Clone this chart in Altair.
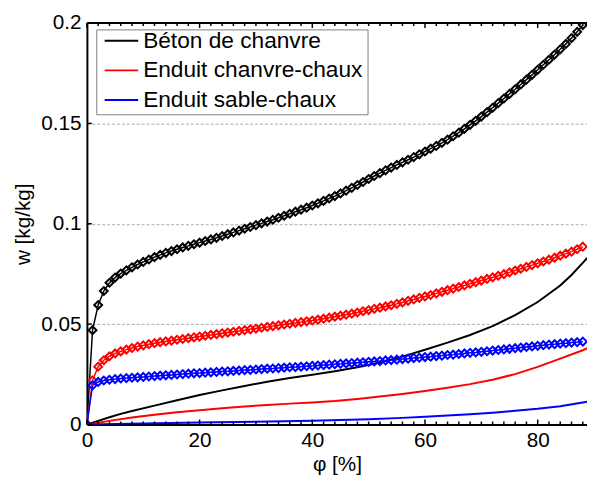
import altair as alt
import pandas as pd

MATERIALS = ["Béton de chanvre", "Enduit chanvre-chaux", "Enduit sable-chaux"]
COLORS = ["#000000", "#ff0000", "#0000ff"]

# marker curves, phi = 0..88 %
PHI_M = list(range(89))
W_BETON_M = [
    0.0, 0.0470, 0.0595, 0.0665, 0.0706, 0.0732, 0.0752, 0.0768, 0.0783, 0.0797,
    0.0810, 0.0822, 0.0834, 0.0845, 0.0855, 0.0864, 0.0873, 0.0882, 0.0890, 0.0898,
    0.0906, 0.0914, 0.0922, 0.0930, 0.0939, 0.0948, 0.0957, 0.0966, 0.0975, 0.0984,
    0.0993, 0.1002, 0.1011, 0.1020, 0.1030, 0.1040, 0.1050, 0.1060, 0.1070, 0.1080,
    0.1091, 0.1102, 0.1114, 0.1126, 0.1138, 0.1151, 0.1165, 0.1179, 0.1193, 0.1208,
    0.1223, 0.1238, 0.1252, 0.1266, 0.1280, 0.1293, 0.1306, 0.1319, 0.1332, 0.1346,
    0.1360, 0.1374, 0.1388, 0.1403, 0.1419, 0.1436, 0.1454, 0.1473, 0.1493, 0.1513,
    0.1534, 0.1556, 0.1578, 0.1601, 0.1624, 0.1647, 0.1670, 0.1694, 0.1718, 0.1742,
    0.1767, 0.1792, 0.1817, 0.1843, 0.1869, 0.1896, 0.1925, 0.1956, 0.1990,
]
W_CHANVRE_M = [
    0.0, 0.0220, 0.0288, 0.0320, 0.0340, 0.0354, 0.0364, 0.0373, 0.0381, 0.0388,
    0.0394, 0.0400, 0.0405, 0.0410, 0.0414, 0.0418, 0.0422, 0.0426, 0.0430, 0.0434,
    0.0438, 0.0442, 0.0446, 0.0450, 0.0454, 0.0458, 0.0462, 0.0466, 0.0470, 0.0474,
    0.0478, 0.0482, 0.0486, 0.0490, 0.0494, 0.0498, 0.0502, 0.0506, 0.0510, 0.0514,
    0.0518, 0.0522, 0.0527, 0.0532, 0.0537, 0.0542, 0.0547, 0.0552, 0.0558, 0.0564,
    0.0570, 0.0576, 0.0582, 0.0588, 0.0594, 0.0601, 0.0608, 0.0616, 0.0623, 0.0631,
    0.0638, 0.0645, 0.0653, 0.0661, 0.0669, 0.0677, 0.0685, 0.0693, 0.0701, 0.0709,
    0.0717, 0.0725, 0.0733, 0.0741, 0.0749, 0.0758, 0.0767, 0.0776, 0.0785, 0.0794,
    0.0803, 0.0812, 0.0821, 0.0831, 0.0841, 0.0851, 0.0861, 0.0873, 0.0886,
]
W_SABLE_M = [
    0.0, 0.0195, 0.0212, 0.0219, 0.0223, 0.0226, 0.0229, 0.0231, 0.0233, 0.0235,
    0.0237, 0.0239, 0.0241, 0.0243, 0.0245, 0.0247, 0.0249, 0.0251, 0.0253, 0.0255,
    0.0256, 0.0258, 0.0260, 0.0262, 0.0264, 0.0265, 0.0267, 0.0269, 0.0271, 0.0272,
    0.0274, 0.0276, 0.0278, 0.0279, 0.0281, 0.0283, 0.0285, 0.0286, 0.0288, 0.0290,
    0.0292, 0.0294, 0.0296, 0.0298, 0.0300, 0.0302, 0.0304, 0.0306, 0.0308, 0.0310,
    0.0312, 0.0314, 0.0316, 0.0319, 0.0321, 0.0323, 0.0326, 0.0328, 0.0331, 0.0333,
    0.0336, 0.0338, 0.0341, 0.0343, 0.0346, 0.0348, 0.0351, 0.0354, 0.0357, 0.0359,
    0.0362, 0.0365, 0.0368, 0.0371, 0.0374, 0.0377, 0.0380, 0.0383, 0.0386, 0.0389,
    0.0392, 0.0395, 0.0398, 0.0400, 0.0403, 0.0405, 0.0408, 0.0410, 0.0413,
]

# thin solid curves
PHI_BETON_L = [0, 2, 4, 6, 8, 12, 16, 20, 24, 28, 32, 36, 40, 44, 48, 52, 56, 60,
               64, 68, 72, 76, 80, 84, 86, 88, 88.8]
W_BETON_L = [0.0, 0.0018, 0.0036, 0.0053, 0.0067, 0.0094, 0.0121, 0.0147, 0.0170,
             0.0192, 0.0213, 0.0232, 0.0248, 0.0265, 0.0285, 0.0309, 0.0338, 0.0372,
             0.0408, 0.0446, 0.0490, 0.0545, 0.0610, 0.0692, 0.0745, 0.0805, 0.0830]
PHI_CHANVRE_L = [0, 4, 8, 12, 16, 20, 24, 28, 32, 36, 40, 44, 48, 52, 56, 60, 64,
                 68, 72, 76, 80, 84, 88, 88.8]
W_CHANVRE_L = [0.0, 0.0018, 0.0035, 0.0049, 0.0061, 0.0071, 0.0081, 0.0090, 0.0097,
               0.0104, 0.0110, 0.0117, 0.0127, 0.0139, 0.0152, 0.0167, 0.0183, 0.0201,
               0.0223, 0.0251, 0.0287, 0.0328, 0.0370, 0.0380]
PHI_SABLE_L = [0, 10, 20, 30, 40, 50, 56, 60, 64, 68, 72, 76, 80, 84, 88, 88.8]
W_SABLE_L = [0.0, 0.0005, 0.0010, 0.0014, 0.0019, 0.0026, 0.0033, 0.0039, 0.0045,
             0.0051, 0.0059, 0.0068, 0.0078, 0.0091, 0.0110, 0.0114]

X_MAJOR = [0, 20, 40, 60, 80]
X_MINOR = [v for v in range(2, 89, 2) if v % 20 != 0]
Y_TICKS = [0, 0.05, 0.1, 0.15, 0.2]

rows_m = []
for name, ws in zip(MATERIALS, [W_BETON_M, W_CHANVRE_M, W_SABLE_M]):
    for p, w in zip(PHI_M, ws):
        rows_m.append({"phi": p, "w": w, "mat": name})
df_m = pd.DataFrame(rows_m)

rows_l = []
for name, ps, ws in zip(MATERIALS, [PHI_BETON_L, PHI_CHANVRE_L, PHI_SABLE_L],
                        [W_BETON_L, W_CHANVRE_L, W_SABLE_L]):
    for p, w in zip(ps, ws):
        rows_l.append({"phi": p, "w": w, "mat": name})
df_l = pd.DataFrame(rows_l)

W, H = 507, 407
FONT = "Liberation Sans"

xscale = alt.Scale(domain=[0, 88.75], nice=False, zero=False)
yscale = alt.Scale(domain=[0, 0.2], nice=False)
cscale = alt.Scale(domain=MATERIALS, range=COLORS)

legend = alt.Legend(
    title=None, orient="none", legendX=17, legendY=0,
    symbolType="stroke", symbolSize=1156, symbolStrokeWidth=2,
    labelFontSize=23, labelFont=FONT, labelColor="black", labelOffset=4,
    padding=0, rowPadding=-4.5, labelLimit=400,
)

x_enc = alt.X("phi:Q", scale=xscale, axis=alt.Axis(
    values=X_MAJOR, ticks=False, grid=False, labelFlush=False,
    title="φ [%]", labelPadding=5, titlePadding=4))
y_enc = alt.Y("w:Q", scale=yscale, axis=alt.Axis(
    values=Y_TICKS, format="~g", ticks=False, grid=True,
    gridDash=[3, 2], gridColor="#aaaaaa", gridWidth=1,
    title="w [kg/kg]", labelPadding=6, titlePadding=7))

thin = alt.Chart(df_l).mark_line(strokeWidth=2, clip=True).encode(
    x=x_enc, y=y_enc,
    color=alt.Color("mat:N", scale=cscale, legend=legend, sort=MATERIALS),
    detail="mat:N",
)
mline = alt.Chart(df_m).mark_line(strokeWidth=1.5, clip=True).encode(
    x="phi:Q", y="w:Q",
    color=alt.Color("mat:N", scale=cscale, legend=legend, sort=MATERIALS),
    detail="mat:N",
)
mpts = alt.Chart(df_m).mark_point(shape="diamond", size=64, filled=False,
                                  strokeWidth=2, opacity=1, clip=True).encode(
    x="phi:Q", y="w:Q",
    color=alt.Color("mat:N", scale=cscale, legend=legend, sort=MATERIALS),
)

df_xmaj = pd.DataFrame({"phi": X_MAJOR})
df_xmin = pd.DataFrame({"phi": X_MINOR})
df_y = pd.DataFrame({"w": Y_TICKS})

tick_style = dict(color="black", strokeWidth=1.5)
xmaj_bot = alt.Chart(df_xmaj).mark_rule(**tick_style).encode(
    x="phi:Q", y=alt.value(H), y2=alt.value(H - 5))
xmin_bot = alt.Chart(df_xmin).mark_rule(**tick_style).encode(
    x="phi:Q", y=alt.value(H), y2=alt.value(H - 3))
xmaj_top = alt.Chart(df_xmaj).mark_rule(**tick_style).encode(
    x="phi:Q", y=alt.value(0), y2=alt.value(5))
xmin_top = alt.Chart(df_xmin).mark_rule(**tick_style).encode(
    x="phi:Q", y=alt.value(0), y2=alt.value(3))
ytick = alt.Chart(df_y).mark_rule(**tick_style).encode(
    y="w:Q", x=alt.value(0), x2=alt.value(5))
top_frame = alt.Chart(df_y.head(1)).mark_rule(color="black", strokeWidth=2).encode(
    x=alt.value(0), x2=alt.value(W), y=alt.value(0))
legend_box = alt.Chart(df_y.head(1)).mark_rect(
    fill="white", stroke="#808080", strokeWidth=1).encode(
    x=alt.value(10), x2=alt.value(285), y=alt.value(7), y2=alt.value(93))

chart = alt.layer(
    thin, mline, mpts, xmaj_bot, xmin_bot, xmaj_top, xmin_top, ytick, top_frame,
    legend_box,
).properties(
    width=W, height=H,
    autosize=alt.AutoSizeParams(type="none"),
    padding={"left": 80, "top": 12, "right": 0, "bottom": 50},
    background="white",
).configure_view(stroke=None).configure_axis(
    domainColor="black", domainWidth=2,
    labelFont=FONT, labelFontSize=21, labelColor="black",
    titleFont=FONT, titleFontSize=21, titleColor="black", titleFontWeight="normal",
)

chart.save("out.html", embed_options={"renderer": "svg", "actions": False})
